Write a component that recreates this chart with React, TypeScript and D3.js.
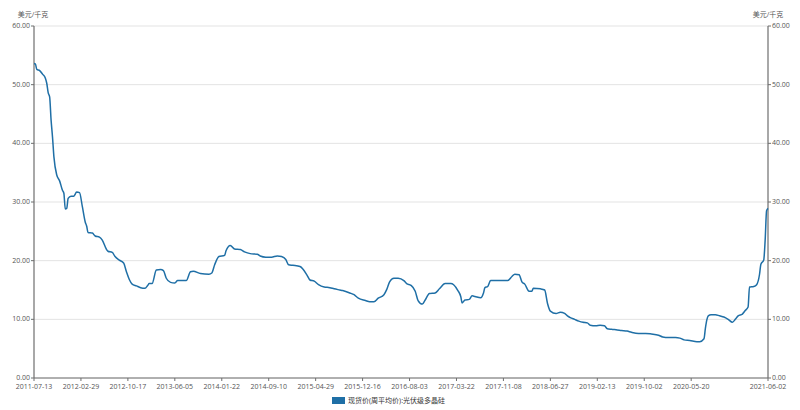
import React from "react";
import * as d3 from "d3";

const startDate = "2011-07-13";
const endDate = "2021-06-02";
const xTickLabels = [
  "2011-07-13", "2012-02-29", "2012-10-17", "2013-06-05", "2014-01-22",
  "2014-09-10", "2015-04-29", "2015-12-16", "2016-08-03", "2017-03-22",
  "2017-11-08", "2018-06-27", "2019-02-13", "2019-10-02", "2020-05-20", "2021-06-02",
];
const yTicks = [0, 10, 20, 30, 40, 50, 60];
const unitLabel = "美元/千克";
const seriesName = "现货价(周平均价):光伏级多晶硅";

// weeks elapsed since 2011-07-13
const weeks = [
  0, 1, 2, 4, 6, 8, 9, 10, 11, 12, 13, 14, 16, 18, 20, 21, 22, 23, 24, 26, 28, 30, 32, 34, 36, 37, 38, 41, 43, 46, 48, 51, 52, 55, 57, 60, 63, 65, 67, 69, 72, 75, 78, 80,
  81, 83, 86, 89, 91, 93, 96, 99, 101, 107, 110, 112, 117, 123, 125, 127, 130, 134, 135, 138, 141, 145, 148, 152, 157, 159, 163, 167, 171, 174, 177, 179, 182, 187,
  189, 192, 194, 197, 200, 204, 208, 211, 215, 217, 222, 225, 228, 233, 236, 239, 242, 246, 248, 250, 253, 256, 260, 262, 265, 268, 270, 273, 275, 278, 282, 285, 289, 293, 295,
  298, 300, 301, 303, 306, 308, 310, 314, 316, 317, 319, 321, 325, 333, 336, 338, 341, 343, 345, 348, 350, 351, 356, 359, 361, 363, 367, 370, 373, 375, 377, 380, 383, 386, 389, 391, 395,
  398, 401, 403, 406, 410, 413, 417, 420, 425, 430, 434, 439, 442, 446, 451, 454, 457, 461, 466, 468, 471, 472, 473, 474, 476, 479, 482, 485, 488, 491, 493, 495, 498, 500, 502,
  503, 506, 508, 510, 511, 513, 514, 515, 516,
];
const prices = [
  53.6, 53.5, 52.6, 52.4, 51.8, 51.1, 50.2, 48.6, 47.9, 44.0, 41.1, 37.7, 34.6, 33.6, 32.0, 31.5, 28.8, 28.9, 30.6, 31.0, 31.0, 31.7, 31.6, 29.2, 26.6, 25.9, 24.8, 24.7, 24.2, 24.0, 23.5, 21.9, 21.6, 21.4, 20.7, 20.1, 19.6, 18.1, 16.8, 16.0, 15.7, 15.4, 15.3, 15.8,
  16.1, 16.1, 18.4, 18.5, 18.3, 17.0, 16.3, 16.2, 16.6, 16.6, 18.1, 18.2, 17.8, 17.7, 17.9, 19.3, 20.7, 20.9, 21.7, 22.6, 22.0, 21.9, 21.5, 21.2, 21.1, 20.8, 20.6, 20.6, 20.8, 20.7, 20.2, 19.3, 19.2, 19.0,
  18.6, 17.5, 16.7, 16.5, 15.9, 15.5, 15.4, 15.2, 15.0, 14.9, 14.5, 14.2, 13.6, 13.2, 13.0, 13.0, 13.6, 14.2, 15.1, 16.4, 17.0, 17.0, 16.6, 16.1, 15.8, 14.8, 13.2, 12.6, 13.3, 14.4, 14.5, 15.2, 16.1, 16.1, 15.9,
  14.9, 13.9, 12.8, 13.3, 13.4, 14.0, 13.9, 13.7, 14.5, 15.4, 15.6, 16.6, 16.6, 16.6, 17.3, 17.7, 17.6, 16.4, 16.0, 14.8, 14.8, 15.3, 15.2, 15.0, 12.7, 11.4, 11.0, 11.2, 11.0, 10.6, 10.3, 10.0, 9.7, 9.5, 9.4, 9.0, 8.9,
  9.0, 8.9, 8.4, 8.3, 8.2, 8.1, 8.0, 7.8, 7.6, 7.6, 7.5, 7.3, 7.0, 6.9, 6.9, 6.8, 6.5, 6.4, 6.2, 6.2, 6.7, 8.5, 9.9, 10.6, 10.8, 10.8, 10.6, 10.4, 10.0, 9.5, 10.0, 10.6, 10.9, 11.5, 12.1,
  15.5, 15.6, 15.9, 17.6, 19.4, 20.1, 23.5, 28.5, 28.9,
];

const W = 800;
const H = 410;
const left = 34;
const right = 768;
const top = 26;
const bottom = 378;
const FONT = "'Open Sans', 'Noto Sans CJK SC', sans-serif";

export default function App() {
  const parse = d3.utcParse("%Y-%m-%d");
  const t0 = parse(startDate)!;
  const t1 = parse(endDate)!;
  const x = d3.scaleUtc().domain([t0, t1]).range([left, right]);
  const y = d3.scaleLinear().domain([0, 60]).range([bottom, top]);

  const pts: [Date, number][] = weeks.map((w, i) => [d3.utcDay.offset(t0, w * 7), prices[i]]);
  const line = d3
    .line<[Date, number]>()
    .x((d) => x(d[0]))
    .y((d) => y(d[1]))
    .curve(d3.curveMonotoneX);

  const axisColor = "#6e6e6e";
  const textColor = "#555";

  return (
    <svg
      width={W}
      height={H}
      style={{ position: "absolute", left: 0, top: 0, display: "block", background: "#fff" }}
      fontFamily={FONT}
    >
      {yTicks.map((t) => (
        <line key={"g" + t} x1={left} x2={right} y1={y(t)} y2={y(t)} stroke="#e3e3e3" strokeWidth={1} />
      ))}
      <line x1={left} x2={left} y1={top} y2={bottom} stroke={axisColor} strokeWidth={1.2} />
      {yTicks.map((t) => (
        <g key={"l" + t}>
          <line x1={left - 3} x2={left} y1={y(t)} y2={y(t)} stroke={axisColor} />
          <text x={left - 4} y={y(t) - 0.5} dy="0.35em" textAnchor="end" fontSize={7} fill={textColor}>
            {t.toFixed(2)}
          </text>
        </g>
      ))}
      <line x1={right} x2={right} y1={top} y2={bottom} stroke={axisColor} strokeWidth={1.2} />
      {yTicks.map((t) => (
        <g key={"r" + t}>
          <line x1={right} x2={right + 3} y1={y(t)} y2={y(t)} stroke={axisColor} />
          <text x={right + 4} y={y(t) - 0.5} dy="0.35em" textAnchor="start" fontSize={7} fill={textColor}>
            {t.toFixed(2)}
          </text>
        </g>
      ))}
      <text x={33} y={17} textAnchor="middle" fontSize={7} fill={textColor}>{unitLabel}</text>
      <text x={768} y={17} textAnchor="middle" fontSize={7} fill={textColor}>{unitLabel}</text>
      <line x1={left} x2={right} y1={bottom} y2={bottom} stroke={axisColor} strokeWidth={1} />
      {xTickLabels.map((lab) => {
        const xv = x(parse(lab)!);
        return (
          <g key={lab}>
            <line x1={xv} x2={xv} y1={bottom} y2={bottom + 3} stroke={axisColor} />
            <text x={xv} y={bottom + 10.5} textAnchor="middle" fontSize={7} fill={textColor}>
              {lab}
            </text>
          </g>
        );
      })}
      <path d={line(pts) || ""} fill="none" stroke="#1f6fa6" strokeWidth={1.5} strokeLinejoin="round" />
      <rect x={332} y={397} width={13} height={7} fill="#1f6fa6" />
      <text x={348} y={400.5} dy="0.35em" fontSize={7} fill="#333">{seriesName}</text>
    </svg>
  );
}
